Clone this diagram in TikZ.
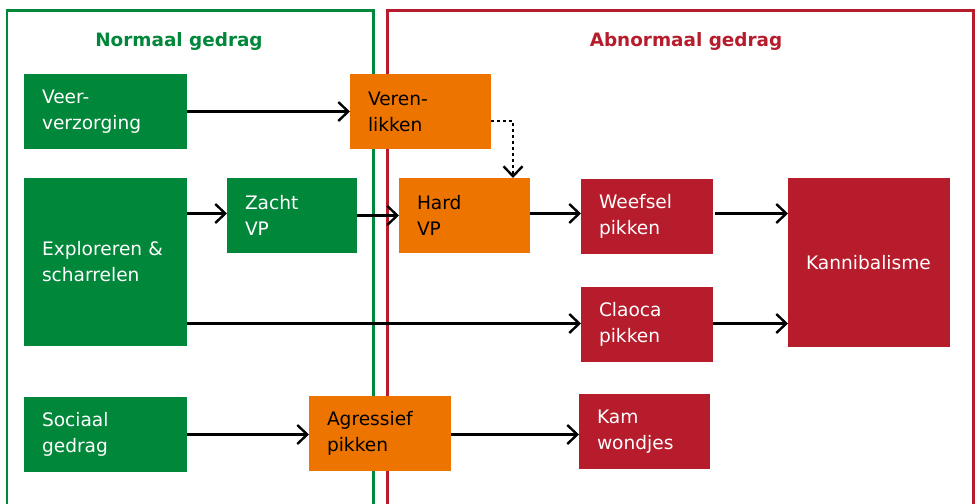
\documentclass[tikz,border=0pt]{standalone}
\usepackage{fontspec}
\setmainfont{DejaVu Sans}
\usetikzlibrary{arrows.meta}
\definecolor{cgreen}{RGB}{0,135,58}
\definecolor{cred}{RGB}{183,28,44}
\definecolor{corange}{RGB}{238,116,0}
\begin{document}
\begin{tikzpicture}[x=1pt,y=-1pt,
  box/.style={rectangle, anchor=north west, inner xsep=18pt, inner ysep=0pt,
    outer sep=0pt, align=left, font=\fontsize{18.6}{26}\selectfont},
  gbox/.style={box, fill=cgreen, text=white},
  rbox/.style={box, fill=cred, text=white},
  obox/.style={box, fill=corange, text=black},
  tip/.style={-{Straight Barb[length=10pt,width=19pt,line width=2.4pt]}},
  conn/.style={line width=2.5pt, tip},
  frame/.style={line width=2.6pt},
  title/.style={font=\fontsize{18.4}{22}\selectfont\bfseries}
]
\useasboundingbox (0,0) rectangle (979,503);
% frames
\draw[frame, cgreen] (7,510) -- (7,10.5) -- (373.5,10.5) -- (373.5,510);
\draw[frame, cred] (387.5,510) -- (387.5,10.5) -- (973.5,10.5) -- (973.5,510);
\node[title, text=cgreen] (tnorm) at (179,41) {Normaal gedrag};
\node[title, text=cred] (tabn) at (686,41) {Abnormaal gedrag};
% boxes
\node[gbox, minimum width=163pt, minimum height=75pt, text width=127pt] (veer) at (24,74) {Veer-\\verzorging};
\node[obox, minimum width=141pt, minimum height=75pt, text width=105pt] (veren) at (350,74) {Veren-\\likken};
\node[gbox, minimum width=163pt, minimum height=168pt, text width=127pt] (expl) at (24,178) {Exploreren \&\\scharrelen};
\node[gbox, minimum width=130pt, minimum height=75pt, text width=94pt] (zacht) at (227,178) {Zacht\\VP};
\node[obox, minimum width=131pt, minimum height=75pt, text width=95pt] (hard) at (399,178) {Hard\\VP};
\node[rbox, minimum width=132pt, minimum height=75pt, text width=96pt] (weef) at (581,179) {Weefsel\\pikken};
\node[rbox, minimum width=132pt, minimum height=75pt, text width=96pt] (claoca) at (581,287) {Claoca\\pikken};
\node[rbox, minimum width=162pt, minimum height=169pt, text width=126pt] (kanni) at (788,178) {Kannibalisme};
\node[gbox, minimum width=163pt, minimum height=75pt, text width=127pt] (soc) at (24,397) {Sociaal\\gedrag};
\node[obox, minimum width=142pt, minimum height=75pt, text width=106pt] (agr) at (309,396) {Agressief\\pikken};
\node[rbox, minimum width=131pt, minimum height=75pt, text width=95pt] (kam) at (579,394) {Kam\\wondjes};
% connectors
\draw[conn] (veer.east) -- (veren.west);
\draw[conn] ([yshift=2pt]zacht.west -| expl.east) -- ([yshift=2pt]zacht.west);
\draw[conn] (zacht.east) -- (hard.west);
\draw[conn] ([yshift=2pt]hard.east) -- ([yshift=2pt]hard.east -| weef.west);
\draw[conn] ([xshift=2pt,yshift=3pt]weef.east) -- ([yshift=3pt]weef.east -| kanni.west);
\draw[conn] ([yshift=1pt]claoca.west -| expl.east) -- ([yshift=1pt]claoca.west);
\draw[conn] ([yshift=1pt]claoca.east) -- ([yshift=1pt]claoca.east -| kanni.west);
\draw[conn] (soc.east) -- (soc.east -| agr.west);
\draw[conn] ([yshift=-1pt]agr.east) -- ([yshift=-1pt]agr.east -| kam.west);
\coordinate (dturn) at ([yshift=-9.5pt]veren.east -| 513,0);
\draw[line width=2.5pt, dash pattern=on 2.5pt off 3.5pt, tip]
  ([yshift=-9.5pt]veren.east) -- (dturn) -- (dturn |- hard.north);
\end{tikzpicture}
\end{document}
